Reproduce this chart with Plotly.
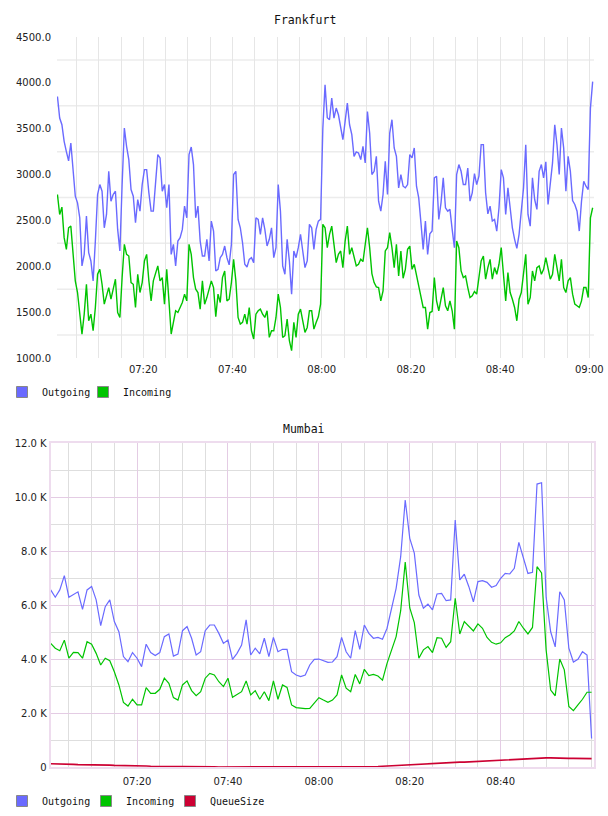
import plotly.graph_objects as go
from datetime import datetime, timedelta

# ---------------- Frankfurt (30 s samples starting 07:00:45) ----------------
fr_outgoing = [
    3851, 3616, 3543, 3362, 3250, 3150, 3344, 3000, 2764, 2692,
    2529, 2004, 2130, 2547, 2149, 2058, 1841, 2275, 2783, 2891,
    2819, 2420, 2565, 3036, 2710, 2783, 2819, 2402, 2167, 2891,
    3507, 3308, 3163, 2837, 2764, 2475, 2728, 2601, 2891, 3054,
    3054, 2801, 2601, 2601, 2927, 3217, 3181, 2819, 2891, 2638,
    2891, 2130, 2239, 2004, 2275, 2312, 2402, 2656, 2529, 3217,
    3300, 3109, 2529, 2656, 2275, 2112, 2112, 2294, 2058, 2493,
    2384, 1949, 1967, 2094, 2130, 2221, 2094, 2015, 2239, 3000,
    3036, 2511, 2420, 2257, 2022, 1993, 2076, 2094, 2040, 2529,
    2511, 2348, 2529, 2402, 2221, 2294, 2420, 2094, 2203, 2891,
    2601, 2004, 1913, 2294, 2058, 1696, 2167, 2094, 2203, 2348,
    2167, 1986, 2058, 2457, 2420, 2185, 2402, 2493, 2511, 3500,
    3980, 3620, 3598, 3833, 3616, 3725, 3652, 3525, 3380, 3580,
    3779, 3543, 3435, 3199, 3246, 3236, 3163, 3308, 3127, 3688,
    3453, 3000, 3036, 3199, 2710, 2601, 2783, 3145, 2783, 3453,
    3598, 3290, 3199, 2855, 3000, 2873, 2855, 2891, 3217, 3181,
    3290, 2873, 2746, 2475, 2185, 2493, 2130, 2355, 2384, 2964,
    2982, 2511, 2692, 2964, 2638, 2601, 2620, 2402, 2203, 3000,
    3109, 3036, 2891, 2891, 3072, 2710, 2801, 3011, 2891, 2982,
    3326, 3326, 2801, 2572, 2656, 2493, 2511, 2384, 2638, 3054,
    2964, 2565, 2855, 2638, 2420, 2294, 2196, 2348, 2638, 2855,
    3326, 2565, 2438, 2964, 2728, 2620, 3036, 3109, 2964, 3138,
    2674, 2891, 3127, 3543, 3326, 3000, 3507, 3290, 2819, 3199,
    3036, 2717, 2674, 2601, 2384, 2710, 2927, 2873, 2837, 3725,
    4014,
]
fr_incoming = [
    2783, 2565, 2645, 2312, 2185, 2420, 2438, 2112, 1841, 1714,
    1478, 1261, 1478, 1804, 1406, 1478, 1297, 1551, 1913, 1967,
    1804, 1587, 1678, 1768, 1641, 1750, 1859, 1496, 1442, 1877,
    2239, 2130, 2112, 1822, 1804, 1551, 1913, 1714, 1822, 2058,
    2130, 1841, 1623, 1841, 1913, 2004, 1841, 1877, 1587, 1967,
    1623, 1261, 1388, 1515, 1496, 1551, 1605, 1696, 1623, 2239,
    2130, 1877, 1750, 1714, 1533, 1841, 1587, 1659, 1750, 1841,
    1768, 1450, 1696, 1605, 1877, 1949, 1623, 1641, 1822, 2076,
    1841, 1442, 1370, 1388, 1478, 1370, 1551, 1297, 1207, 1478,
    1515, 1533, 1478, 1442, 1515, 1225, 1297, 1297, 1442, 1696,
    1551, 1225, 1243, 1424, 1188, 1080, 1388, 1225, 1478, 1533,
    1406, 1279, 1333, 1515, 1515, 1315, 1388, 1449, 1587, 2457,
    2420, 2203, 2348, 2438, 2239, 2040, 2130, 2167, 1986, 2275,
    2438, 2130, 2203, 2094, 2004, 2022, 2076, 2051, 2239, 2420,
    2203, 1920, 1822, 1775, 1768, 1623, 1732, 2167, 2203, 2366,
    2203, 1986, 2239, 1895, 2167, 1870, 1967, 2185, 2221, 1967,
    2022, 1913, 1775, 1678, 1551, 1551, 1315, 1496, 1507, 1877,
    1623, 1515, 1659, 1768, 1569, 1515, 1623, 1515, 1315, 2275,
    2203, 1949, 1877, 1895, 1768, 1659, 1678, 1725, 1696, 1913,
    2058, 2112, 1859, 1986, 2076, 1859, 1986, 1913, 2022, 2203,
    1913, 1623, 1931, 1714, 1641, 1551, 1406, 1641, 1714, 1949,
    2130, 1587, 1659, 1949, 1841, 1986, 2004, 1913, 1967, 2094,
    1986, 1859, 1913, 2130, 1986, 1841, 2076, 1768, 1714, 1841,
    1877, 1696, 1587, 1569, 1551, 1623, 1768, 1768, 1659, 2529,
    2638,
]
fr_ytick_vals = [1000, 1500, 2000, 2500, 3000, 3500, 4000, 4500]
fr_ytick_text = ["1000.0", "1500.0", "2000.0", "2500.0", "3000.0", "3500.0", "4000.0", "4500.0"]
fr_hgrid_vals = [1250, 1750, 2250, 2750, 3250, 3750, 4250]

# ---------------- Mumbai (1 min samples starting 07:01) ----------------
mu_outgoing = [
    6570, 6300, 6570, 7100, 6300, 6400, 6500, 5850, 6570, 6700,
    6200, 5250, 5950, 6200, 5400, 5020, 4100, 3910, 4250, 4040,
    3730, 4560, 4250, 4140, 4250, 4840, 4940, 4120, 4190, 5060,
    5210, 4780, 4160, 4280, 5060, 5270, 5270, 4960, 4590, 4710,
    4000, 4220, 4530, 5460, 4160, 4410, 4200, 4780, 4100, 4810,
    4280, 4370, 4370, 3540, 3420, 3360, 3420, 3790, 4000, 4010,
    3950, 3890, 3900, 4100, 4810, 4280, 4040, 5060, 4370, 5270,
    4960, 4780, 4810, 4740, 5150, 5950, 6630, 7800, 9900, 8480,
    7930, 6380, 5890, 6040, 5830, 6420, 6440, 6170, 6200, 9160,
    6940, 7150, 6690, 6130, 6880, 6910, 6850, 6670, 6730, 7000,
    7180, 7160, 7370, 8330, 7800, 7180, 7220, 10490, 10540, 6300,
    5020, 4460, 6500, 6200, 4410, 3900, 4000, 4280, 4160, 1070,
]
mu_incoming = [
    4590, 4410, 4320, 4710, 4040, 4260, 4250, 4040, 4650, 4560,
    4220, 3790, 4040, 3950, 3540, 3050, 2400, 2270, 2520, 2310,
    2310, 2950, 2740, 2740, 2890, 3300, 3110, 2580, 2490, 3050,
    3200, 2840, 2650, 2800, 3300, 3480, 3420, 3170, 2990, 3300,
    2590, 2680, 2800, 3200, 2680, 2840, 2520, 2800, 2470, 3200,
    2520, 3050, 2960, 2310, 2210, 2190, 2170, 2180, 2370, 2580,
    2490, 2410, 2490, 2680, 3420, 2930, 2800, 3440, 3090, 3630,
    3400, 3440, 3380, 3230, 3850, 4370, 4840, 5800, 7600, 5900,
    5360, 4040, 4350, 4470, 4250, 4800, 4780, 4440, 4650, 6260,
    4940, 5400, 5210, 5050, 5310, 5150, 4810, 4630, 4560, 4610,
    4800, 4900, 5050, 5400, 5150, 4940, 5180, 7430, 7200, 4350,
    2860, 2650, 4010, 3610, 2250, 2100, 2310, 2520, 2780, 2780,
]
mu_queue = [
    130, 130, 120, 120, 110, 110, 100, 100, 90, 90,
    90, 80, 80, 80, 70, 70, 70, 60, 60, 50,
    50, 50, 40, 40, 40, 40, 30, 30, 30, 30,
    30, 20, 20, 20, 20, 20, 20, 10, 10, 10,
    10, 10, 10, 10, 10, 10, 10, 10, 10, 10,
    10, 10, 10, 10, 10, 10, 10, 10, 10, 10,
    10, 10, 10, 10, 10, 10, 10, 10, 10, 20,
    20, 30, 30, 40, 50, 60, 70, 80, 90, 100,
    100, 110, 110, 120, 130, 140, 150, 160, 170, 180,
    190, 190, 200, 210, 220, 230, 240, 250, 260, 270,
    280, 280, 290, 300, 310, 320, 330, 340, 350, 350,
    350, 340, 340, 340, 330, 330, 330, 330, 320, 320,
]
mu_ytick_vals = [0, 2000, 4000, 6000, 8000, 10000, 12000]
mu_ytick_text = ["0", "2.0 K", "4.0 K", "6.0 K", "8.0 K", "10.0 K", "12.0 K"]

xtick_text = ["07:20", "07:40", "08:00", "08:20", "08:40", "09:00"]

day = datetime(2024, 1, 1)
fr_start = day + timedelta(hours=7, seconds=45)
fr_time = [fr_start + timedelta(seconds=30 * i) for i in range(len(fr_outgoing))]
mu_start = day + timedelta(hours=7, minutes=1)
mu_time = [mu_start + timedelta(minutes=i) for i in range(len(mu_outgoing))]

C_OUT = "#6a6aff"
C_IN = "#00c400"
C_Q = "#cc0033"

W, H = 608, 816
fig = go.Figure()

fig.add_trace(go.Scatter(x=fr_time, y=fr_outgoing, mode="lines", line=dict(color=C_OUT, width=1.4),
                         xaxis="x", yaxis="y", showlegend=False, hoverinfo="skip"))
fig.add_trace(go.Scatter(x=fr_time, y=fr_incoming, mode="lines", line=dict(color=C_IN, width=1.4),
                         xaxis="x", yaxis="y", showlegend=False, hoverinfo="skip"))
fig.add_trace(go.Scatter(x=mu_time, y=mu_outgoing, mode="lines", line=dict(color=C_OUT, width=1.2),
                         xaxis="x2", yaxis="y2", showlegend=False, hoverinfo="skip"))
fig.add_trace(go.Scatter(x=mu_time, y=mu_incoming, mode="lines", line=dict(color=C_IN, width=1.2),
                         xaxis="x2", yaxis="y2", showlegend=False, hoverinfo="skip"))
fig.add_trace(go.Scatter(x=mu_time, y=mu_queue, mode="lines", line=dict(color=C_Q, width=1.6),
                         xaxis="x2", yaxis="y2", showlegend=False, hoverinfo="skip"))

def legend_item(name, color, legend, xa, ya, visible_mark=True):
    fig.add_trace(go.Scatter(x=[None], y=[None], mode="markers", name=name,
                             marker=dict(symbol="square", size=11, color=color,
                                         line=dict(color="#888888" if visible_mark else "rgba(0,0,0,0)",
                                                   width=1)),
                             legend=legend, xaxis=xa, yaxis=ya, hoverinfo="skip"))

legend_item("Outgoing", C_OUT, "legend", "x", "y")
legend_item("Incoming", C_IN, "legend", "x", "y")
legend_item("\u00a0", "rgba(0,0,0,0)", "legend", "x", "y", visible_mark=False)
legend_item("Outgoing", C_OUT, "legend2", "x2", "y2")
legend_item("Incoming", C_IN, "legend2", "x2", "y2")
legend_item("QueueSize", C_Q, "legend2", "x2", "y2")
legend_item("\u00a0", "rgba(0,0,0,0)", "legend2", "x2", "y2", visible_mark=False)

fr_xticks = [day + timedelta(hours=7, minutes=m) for m in range(5, 121, 5)]
fr_xtext = [xtick_text[(m // 20) - 1] if m % 20 == 0 else "" for m in range(5, 121, 5)]
mu_xticks = [day + timedelta(hours=7, minutes=m) for m in (20, 40, 60, 80, 100)]

tick_font = dict(family="DejaVu Sans", size=10, color="#222222")
mono = "DejaVu Sans Mono"
pink = "#e4cce4"
grey = "#dedede"

shapes = []
for v in fr_hgrid_vals:
    shapes.append(dict(type="line", xref="x domain", x0=0, x1=1, yref="y", y0=v, y1=v,
                       line=dict(color="#ececec", width=1.5), layer="below"))

fig.update_layout(
    width=W, height=H,
    margin=dict(l=0, r=0, t=0, b=0, autoexpand=False),
    paper_bgcolor="white", plot_bgcolor="white",
    shapes=shapes,
    xaxis=dict(domain=[57 / W, 594 / W], anchor="y", type="date", automargin=False,
               range=[day + timedelta(hours=7, seconds=39), day + timedelta(hours=9, seconds=63)],
               tickvals=fr_xticks, ticktext=fr_xtext, showgrid=True, gridcolor="#e6e6e6",
               gridwidth=1, zeroline=False, showline=False, ticks="", tickfont=tick_font,
               ticklabelstandoff=4),
    yaxis=dict(domain=[1 - 358 / H, 1 - 37 / H], anchor="x", range=[1000, 4500], automargin=False,
               tickvals=fr_ytick_vals, ticktext=fr_ytick_text, showgrid=False, zeroline=False,
               showline=False, ticks="", tickfont=tick_font, ticklabelstandoff=5),
    xaxis2=dict(domain=[50.7 / W, 594 / W], anchor="y2", type="date", automargin=False,
                range=[mu_start, day + timedelta(hours=9, seconds=32)],
                tickvals=mu_xticks, ticktext=xtick_text[:5], showgrid=True, gridcolor=pink,
                minor=dict(dtick=300000, showgrid=True, gridcolor=grey, ticks=""),
                zeroline=False, showline=True, mirror=True, linecolor="#eedcee", linewidth=2,
                ticks="", tickfont=tick_font, ticklabelstandoff=4),
    yaxis2=dict(domain=[1 - 767.3 / H, 1 - 443.3 / H], anchor="x2", range=[0, 12000],
                automargin=False,
                tickvals=mu_ytick_vals, ticktext=mu_ytick_text, showgrid=True, gridcolor=pink,
                minor=dict(dtick=1000, showgrid=True, gridcolor=grey, ticks=""),
                zeroline=False, showline=True, mirror=True, linecolor="#eedcee", linewidth=2,
                ticks="", tickfont=tick_font, ticklabelstandoff=0),
    legend=dict(orientation="h", x=2 / W, xanchor="left", y=1 - 392 / H, yanchor="middle",
                font=dict(family=mono, size=10, color="#111111"), bgcolor="rgba(0,0,0,0)",
                entrywidth=36, entrywidthmode="pixels", itemclick=False, itemdoubleclick=False),
    legend2=dict(orientation="h", x=2 / W, xanchor="left", y=1 - 801 / H, yanchor="middle",
                 font=dict(family=mono, size=10, color="#111111"), bgcolor="rgba(0,0,0,0)",
                 entrywidth=39, entrywidthmode="pixels", itemclick=False, itemdoubleclick=False),
    annotations=[
        dict(text="Frankfurt", xref="paper", yref="paper", x=305 / W, y=1 - 20 / H,
             showarrow=False, font=dict(family=mono, size=11.5, color="#111111"),
             xanchor="center", yanchor="middle"),
        dict(text="Mumbai", xref="paper", yref="paper", x=304 / W, y=1 - 429 / H,
             showarrow=False, font=dict(family=mono, size=11.5, color="#111111"),
             xanchor="center", yanchor="middle"),
    ],
)

fig.write_html("out.html")
